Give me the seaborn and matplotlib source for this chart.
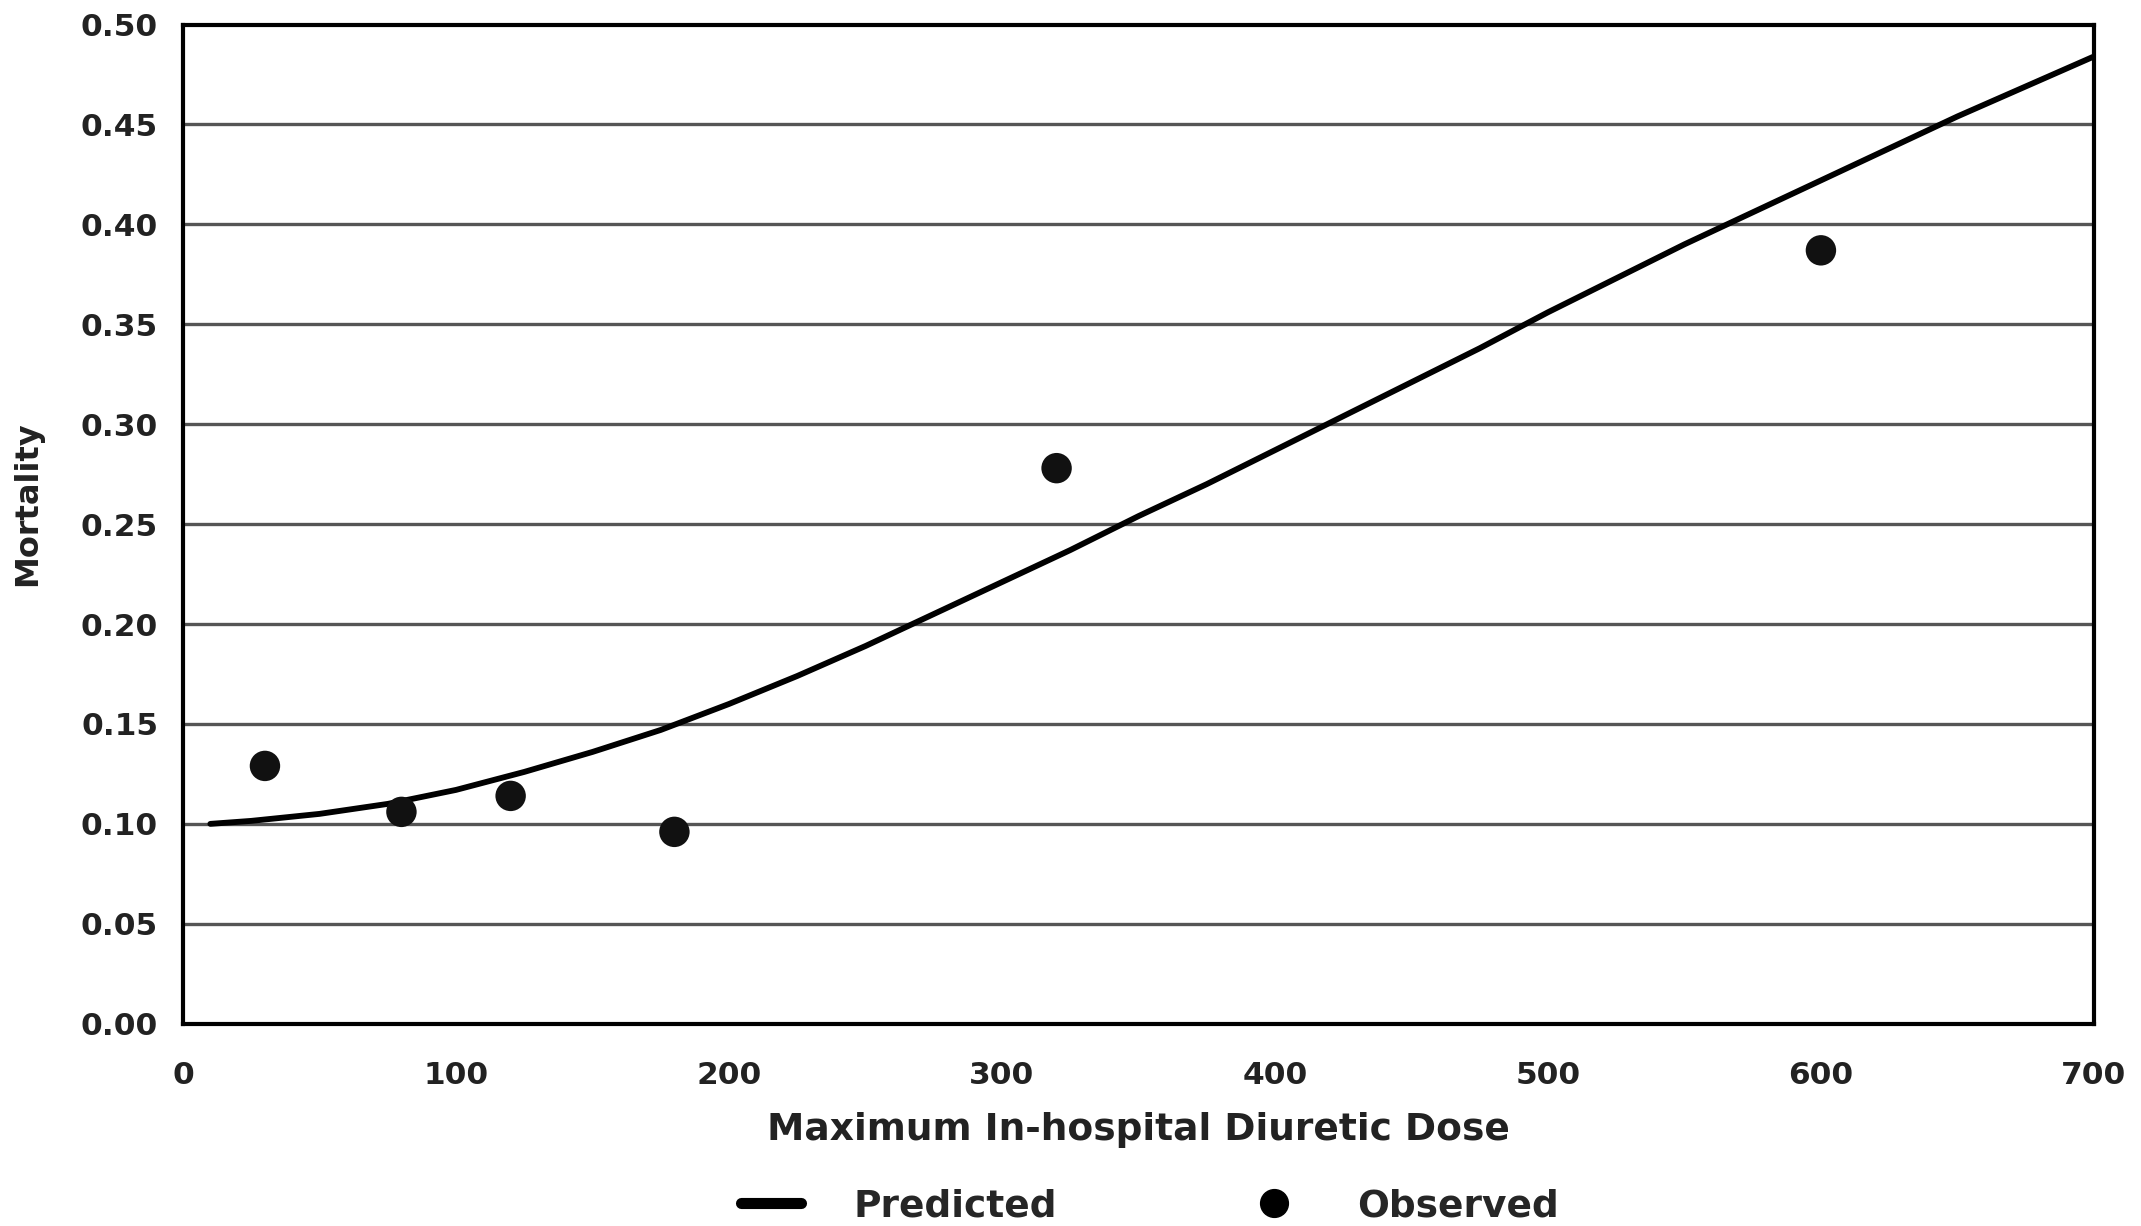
import matplotlib
matplotlib.use("Agg")
import matplotlib.pyplot as plt
import seaborn as sns
import pandas as pd
from matplotlib.lines import Line2D

# Observed points
obs_dose = [30, 80, 120, 180, 320, 600]
obs_mort = [0.129, 0.106, 0.114, 0.096, 0.278, 0.387]

# Predicted curve
pred_dose = [10, 25, 50, 75, 100, 125, 150, 175, 200, 225, 250, 275, 300, 325, 350,
             375, 400, 425, 450, 475, 500, 525, 550, 575, 600, 625, 650, 675, 700]
pred_mort = [0.100, 0.1015, 0.105, 0.110, 0.117, 0.126, 0.136, 0.147, 0.160, 0.174,
             0.189, 0.205, 0.221, 0.237, 0.254, 0.270, 0.287, 0.304, 0.321, 0.338,
             0.356, 0.373, 0.390, 0.406, 0.422, 0.438, 0.454, 0.469, 0.484]

x_ticks = [0, 100, 200, 300, 400, 500, 600, 700]
y_ticks = [0.00, 0.05, 0.10, 0.15, 0.20, 0.25, 0.30, 0.35, 0.40, 0.45, 0.50]

sns.set_style("white")
plt.rcParams['font.family'] = ['DejaVu Sans']

fig = plt.figure(figsize=(21.41, 12.26), dpi=100)
ax = fig.add_axes([0.0855, 0.165, 0.8925, 0.815])

pred_df = pd.DataFrame({"dose": pred_dose, "mort": pred_mort})
obs_df = pd.DataFrame({"dose": obs_dose, "mort": obs_mort})

for yv in y_ticks[1:-1]:
    ax.axhline(yv, color="#555555", lw=2.4, zorder=1)

sns.lineplot(data=pred_df, x="dose", y="mort", ax=ax, color="black", lw=4.2,
             zorder=3, solid_capstyle="round", solid_joinstyle="round")
sns.scatterplot(data=obs_df, x="dose", y="mort", ax=ax, color="#111111", s=480,
                edgecolor="none", zorder=4, marker="o")

ax.set_xlim(0, 700)
ax.set_ylim(0, 0.5)
ax.set_xticks(x_ticks)
ax.set_yticks(y_ticks)
ax.set_xticklabels([str(v) for v in x_ticks])
ax.set_yticklabels([f"{v:.2f}" for v in y_ticks])

for sp in ax.spines.values():
    sp.set_visible(True)
    sp.set_color("black")
    sp.set_linewidth(3.0)

ax.tick_params(axis="both", direction="out", length=9, width=2.2, color="black",
               labelsize=22.5, labelcolor="#222222")
ax.tick_params(axis="x", pad=18)
ax.tick_params(axis="y", pad=9)
for lab in ax.get_xticklabels() + ax.get_yticklabels():
    lab.set_fontweight("bold")

ax.set_xlabel("Maximum In-hospital Diuretic Dose", fontsize=27, fontweight="bold",
              color="#222222", labelpad=16)
ax.set_ylabel("Mortality", fontsize=23, fontweight="bold", color="#222222")
ax.yaxis.set_label_coords(-0.073, 0.52)

handles = [
    Line2D([0], [0], color="black", lw=8, solid_capstyle="round"),
    Line2D([0], [0], color="black", marker="o", markersize=20, lw=0),
]
fig.legend(handles, ["Predicted", "Observed"], loc="center", bbox_to_anchor=(0.537, 0.016),
           ncol=2, frameon=False, handlelength=1.6, columnspacing=5.0,
           handletextpad=1.4, prop={"weight": "bold", "size": 27})

fig.savefig("out.png", dpi=100, facecolor="white")
